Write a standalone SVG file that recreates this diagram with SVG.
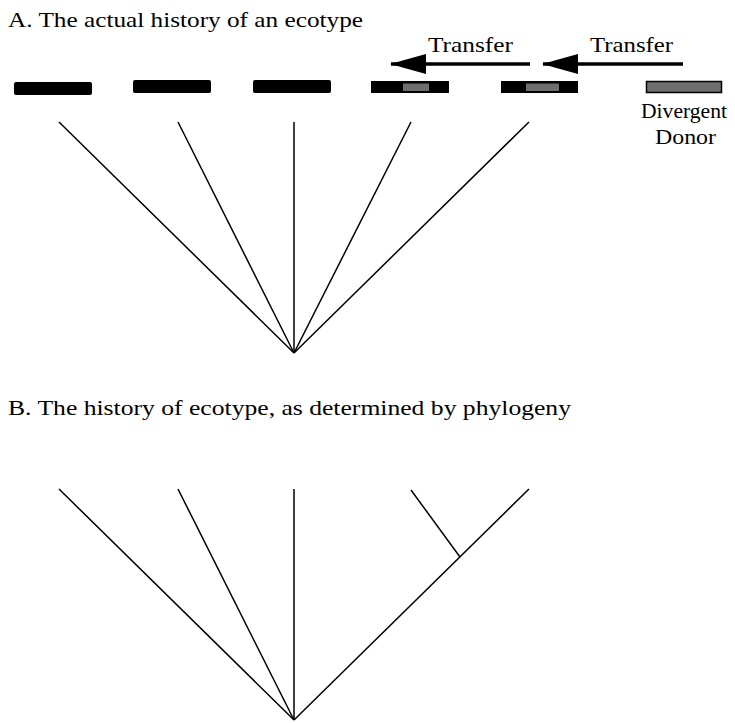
<svg xmlns="http://www.w3.org/2000/svg" width="735" height="723" viewBox="0 0 735 723">
<style>
text{font-family:"Liberation Serif","DejaVu Serif",serif;fill:#000}
.title{font-size:21px}
.lbl{font-size:22px}
.bar{fill:#000}
.ins{fill:#6e6e6e}
.donor{fill:#6e6e6e;stroke:#000;stroke-width:1.5}
.edge{stroke:#000;stroke-width:1.5;fill:none}
.arr{stroke:#000;stroke-width:3.5;fill:none}
</style>
<defs>
<marker id="ah" markerUnits="userSpaceOnUse" markerWidth="36" markerHeight="20" refX="35" refY="10" orient="auto" viewBox="0 0 36 20">
<path d="M0,0 L36,10 L0,20 Z" fill="#000"/>
</marker>
</defs>
<rect width="735" height="723" fill="#fff"/>
<text class="title" x="8" y="27" textLength="355" lengthAdjust="spacingAndGlyphs">A. The actual history of  an ecotype</text>
<g id="bar1"><rect class="bar" x="14" y="82" width="78" height="13" rx="2"/></g>
<g id="bar2"><rect class="bar" x="133" y="80" width="78" height="13" rx="2"/></g>
<g id="bar3"><rect class="bar" x="253" y="80" width="78" height="13" rx="2"/></g>
<g id="bar4"><rect class="bar" x="371" y="81" width="78" height="12"/><rect class="ins" x="403" y="83.5" width="26" height="7.5"/></g>
<g id="bar5"><rect class="bar" x="501" y="81" width="77" height="12"/><rect class="ins" x="526" y="83.5" width="33" height="7.5"/></g>
<g id="donor"><rect class="donor" x="646.5" y="81.5" width="75" height="11"/>
<text class="lbl" x="641" y="118" textLength="86" lengthAdjust="spacingAndGlyphs">Divergent</text>
<text class="lbl" x="655" y="144" textLength="61" lengthAdjust="spacingAndGlyphs">Donor</text></g>
<g id="transfer1"><text class="lbl" x="428" y="52" textLength="85" lengthAdjust="spacingAndGlyphs">Transfer</text></g>
<g id="transfer2"><text class="lbl" x="590" y="52" textLength="83" lengthAdjust="spacingAndGlyphs">Transfer</text></g>
<g id="connectors">
<line class="arr" x1="530" y1="64" x2="391" y2="64" marker-end="url(#ah)"/>
<line class="arr" x1="683" y1="64" x2="543" y2="64" marker-end="url(#ah)"/>
<line class="edge" x1="59" y1="122" x2="294" y2="353"/>
<line class="edge" x1="178" y1="122" x2="294" y2="353"/>
<line class="edge" x1="294" y1="122" x2="294" y2="353"/>
<line class="edge" x1="411" y1="122" x2="294" y2="353"/>
<line class="edge" x1="529" y1="122" x2="294" y2="353"/>
<line class="edge" x1="59" y1="489" x2="294" y2="720"/>
<line class="edge" x1="178" y1="489" x2="294" y2="720"/>
<line class="edge" x1="294" y1="489" x2="294" y2="720"/>
<line class="edge" x1="529" y1="489" x2="294" y2="720"/>
<line class="edge" x1="411" y1="490" x2="460" y2="557"/>
</g>
<text class="title" x="8" y="415" textLength="563" lengthAdjust="spacingAndGlyphs">B. The history of ecotype, as determined by phylogeny</text>
</svg>
